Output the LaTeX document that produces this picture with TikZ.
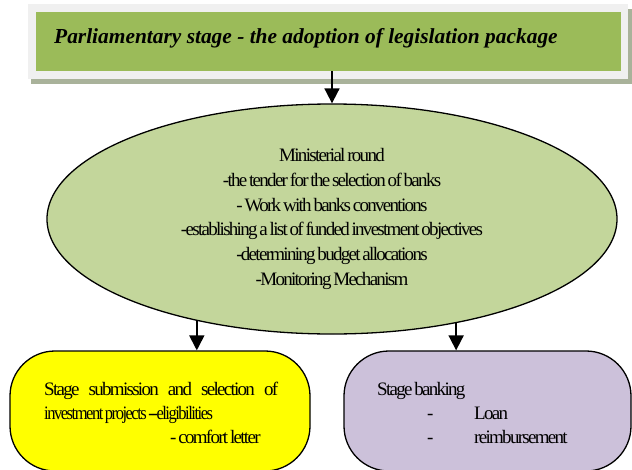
\documentclass[tikz,border=0pt]{standalone}
\usepackage{fontspec}
\usepackage{graphicx}
\setmainfont{Liberation Serif}
\newfontfamily\tightserif{Liberation Serif}[LetterSpace=-9,WordSpace=0.6]
\usetikzlibrary{arrows.meta,shapes.geometric}
\definecolor{headgreen}{HTML}{9BBB59}
\definecolor{framegray}{HTML}{F0F0F0}
\definecolor{shadowgray}{HTML}{A9B29A}
\definecolor{roundgreen}{HTML}{C3D69B}
\definecolor{stageyellow}{HTML}{FFFF00}
\definecolor{stagelilac}{HTML}{CCC1DA}
\tikzset{
  arr/.style={line width=1.8pt,-{Triangle[width=15pt,length=15pt]}},
  stagebox/.style={draw=black,line width=1.3pt,rectangle,rounded corners=45pt,
    minimum width=#1,minimum height=120pt,inner sep=0pt},
  bodytext/.style={font=\tightserif\fontsize{19}{24}\selectfont,inner sep=0pt},
}
\begin{document}
\begin{tikzpicture}[x=1pt,y=-1pt]
\useasboundingbox[fill=white] (0,0) rectangle (632,469);
% title banner: shadow, light frame, green panel
\fill[shadowgray] (31,9) rectangle (632,84);
\fill[framegray] (28,4) rectangle (628,79);
\node[fill=headgreen,minimum width=585pt,minimum height=59pt,inner sep=0pt] (top) at (328.5,41.5) {};
\node[anchor=base west,inner sep=0pt,font=\fontsize{21.4}{24}\selectfont\bfseries\itshape] (toptext) at (54,43)
  {Parliamentary stage - the adoption of legislation package};
% ministerial round
\node[ellipse,draw=black,line width=1.3pt,fill=roundgreen,minimum width=570pt,minimum height=230pt,
  inner sep=0pt,align=center,font=\tightserif\fontsize{19}{24.7}\selectfont] (mid) at (332,219)
  {Ministerial round\\-the tender for the selection of banks\\- Work with banks conventions\\
   -establishing a list of funded investment objectives\\-determining budget allocations\\-Monitoring Mechanism};
% lower stages
\node[stagebox=300pt,fill=stageyellow] (yel) at (160,411) {};
\node[stagebox=287pt,fill=stagelilac] (lil) at (487.5,411) {};
\node[bodytext,anchor=base west] (y1) at (44,395)
  {\makebox[234pt][s]{Stage\hfill submission\hfill and\hfill selection\hfill of}};
\node[bodytext,anchor=base west] (y2) at (44,419)
  {\scalebox{0.87}[1]{investment projects --eligibilities}};
\node[bodytext,anchor=base west] (y3) at (170,443) {- comfort letter};
\node[bodytext,anchor=base west] (l1) at (377,395) {Stage banking};
\node[bodytext,anchor=base west] (l2a) at (427,419) {-};
\node[bodytext,anchor=base west] (l2b) at (474,419) {Loan};
\node[bodytext,anchor=base west] (l3a) at (427,443) {-};
\node[bodytext,anchor=base west] (l3b) at (474,443) {reimbursement};
% connectors
\draw[arr] (top.south -| mid.north) -- (mid.north);
\draw[arr] (mid.217.7) -- (mid.217.7 |- yel.north);
\draw[arr] (mid.320.3) -- (mid.320.3 |- lil.north);
\end{tikzpicture}
\end{document}
